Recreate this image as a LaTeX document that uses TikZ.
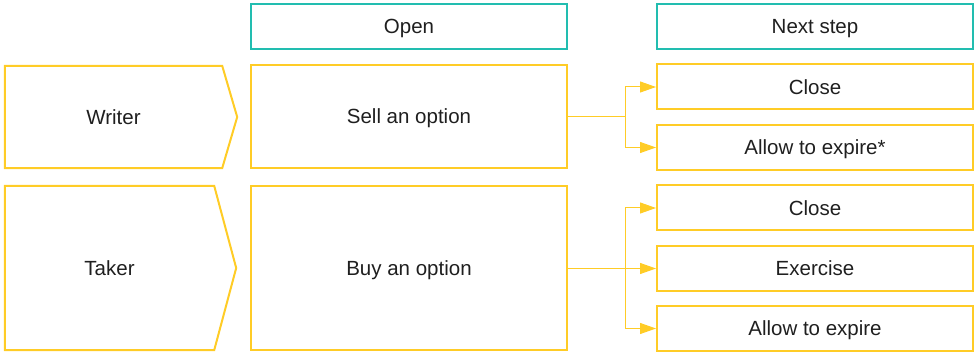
\documentclass[tikz,border=0pt]{standalone}
\usepackage{fontspec}
\setmainfont{Liberation Sans}
\usetikzlibrary{arrows.meta}
\definecolor{gold}{HTML}{FFCC26}
\definecolor{sea}{HTML}{22BDB0}
\begin{document}
\begin{tikzpicture}[x=1pt,y=-1pt,font=\fontsize{20.5}{24}\selectfont,text=black!88,
 every node/.style={text height=14.5pt,text depth=0pt},
 head/.style={draw=sea,line width=2pt,inner sep=0pt,minimum width=316pt,minimum height=45pt},
 cell/.style={draw=gold,line width=2pt,inner sep=0pt},
 choice/.style={cell,minimum width=316pt,minimum height=45pt},
 role/.style={inner sep=0pt},
 link/.style={gold,line width=1pt,-{Triangle[length=16pt,width=11pt]}}]
 \useasboundingbox (0,0) rectangle (979,352);

 \node[head] (open) at (409,26.5) {Open};
 \node[head] (next) at (815,26.5) {Next step};

 % roles
 \node[role,minimum width=217pt,minimum height=102pt] (writer) at (113.5,117) {Writer};
 \draw[gold,line width=2pt] (writer.north west) -- (writer.north east) -- ([xshift=15pt]writer.east) -- (writer.south east) -- (writer.south west) -- cycle;
 \node[role,minimum width=209pt,minimum height=164pt] (taker) at (109.5,268) {Taker};
 \draw[gold,line width=2pt] (taker.north west) -- (taker.north east) -- ([xshift=22pt]taker.east) -- (taker.south east) -- (taker.south west) -- cycle;

 \node[cell,minimum width=316pt,minimum height=103pt] (sell) at (409,116.5) {Sell an option};
 \node[cell,minimum width=316pt,minimum height=164pt] (buy) at (409,268) {Buy an option};

 \node[choice] (wclose) at (815,87) {Close};
 \node[choice] (wexpire) at (815,147.5) {Allow to expire*};
 \node[choice] (tclose) at (815,208) {Close};
 \node[choice] (texercise) at (815,268.5) {Exercise};
 \node[choice] (texpire) at (815,328.5) {Allow to expire};

 \coordinate (wsplit) at (625,116.5);
 \coordinate (tsplit) at (625,268.5);
 \draw[gold,line width=1pt] (sell.east) -- (wsplit);
 \draw[link] (wsplit) |- (wclose.west);
 \draw[link] (wsplit) |- (wexpire.west);
 \draw[link] (buy.east |- texercise) -- (texercise.west);
 \draw[link] (tsplit) |- (tclose.west);
 \draw[link] (tsplit) |- (texpire.west);
\end{tikzpicture}
\end{document}
